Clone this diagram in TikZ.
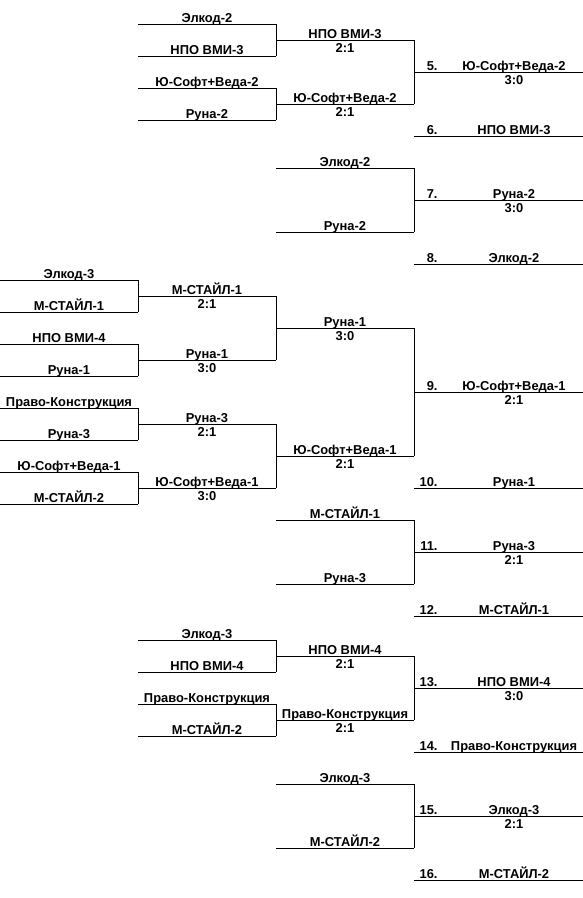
\documentclass[tikz,border=0pt]{standalone}
\usepackage{fontspec}
\setmainfont{Liberation Sans}
\usetikzlibrary{calc}

\begin{document}
\begin{tikzpicture}[x=1pt, y=-1pt, line width=0.9pt,
    every node/.style={font=\bfseries\fontsize{12.9}{15}\selectfont, inner sep=0pt},
    team/.style={anchor=base, yshift=2pt},
    score/.style={anchor=base, yshift=-12.5pt},
    place/.style={anchor=base east, yshift=2pt}]
  \useasboundingbox (0,0) rectangle (583,898);
  % first round
  \foreach \n/\y/\lbl in {a1/280/Элкод-3, a2/312/М-СТАЙЛ-1, a3/344/НПО ВМИ-4, a4/376/Руна-1,
      a5/408/Право-Конструкция, a6/440/Руна-3, a7/472/Ю-Софт+Веда-1, a8/504/М-СТАЙЛ-2}{
    \coordinate (\n-l) at (0,\y);
    \coordinate (\n-r) at (138,\y);
    \coordinate (\n-m) at (69,\y);
    \draw (\n-l) -- (\n-r);
    \node[team] (\n) at (\n-m) {\lbl};
  }
  % second column
  \foreach \n/\y/\lbl in {b1/24/Элкод-2, b2/56/НПО ВМИ-3, b3/88/Ю-Софт+Веда-2, b4/120/Руна-2,
      b5/296/М-СТАЙЛ-1, b6/360/Руна-1, b7/424/Руна-3, b8/488/Ю-Софт+Веда-1,
      b9/640/Элкод-3, b10/672/НПО ВМИ-4, b11/704/Право-Конструкция, b12/736/М-СТАЙЛ-2}{
    \coordinate (\n-l) at (138,\y);
    \coordinate (\n-r) at (276,\y);
    \coordinate (\n-m) at (207,\y);
    \draw (\n-l) -- (\n-r);
    \node[team] (\n) at (\n-m) {\lbl};
  }
  % third column
  \foreach \n/\y/\lbl in {c1/40/НПО ВМИ-3, c2/104/Ю-Софт+Веда-2, c3/168/Элкод-2, c4/232/Руна-2,
      c5/328/Руна-1, c6/456/Ю-Софт+Веда-1, c7/520/М-СТАЙЛ-1, c8/584/Руна-3,
      c9/656/НПО ВМИ-4, c10/720/Право-Конструкция, c11/784/Элкод-3, c12/848/М-СТАЙЛ-2}{
    \coordinate (\n-l) at (276,\y);
    \coordinate (\n-r) at (414,\y);
    \coordinate (\n-m) at (345,\y);
    \draw (\n-l) -- (\n-r);
    \node[team] (\n) at (\n-m) {\lbl};
  }
  % places
  \foreach \p/\y/\lbl in {5/72/Ю-Софт+Веда-2, 6/136/НПО ВМИ-3, 7/200/Руна-2, 8/264/Элкод-2,
      9/392/Ю-Софт+Веда-1, 10/488/Руна-1, 11/552/Руна-3, 12/616/М-СТАЙЛ-1,
      13/688/НПО ВМИ-4, 14/752/Право-Конструкция, 15/816/Элкод-3, 16/880/М-СТАЙЛ-2}{
    \coordinate (d\p-l) at (414,\y);
    \coordinate (d\p-r) at (583,\y);
    \coordinate (d\p-m) at (514,\y);
    \draw (d\p-l) -- (d\p-r);
    \node[place] (d\p-no) at (438,\y) {\p.};
    \node[team] (d\p) at (d\p-m) {\lbl};
  }
  % brackets
  \foreach \u/\v in {a1/a2, a3/a4, a5/a6, a7/a8, b1/b2, b3/b4, b5/b6, b7/b8, b9/b10, b11/b12,
      c1/c2, c3/c4, c5/c6, c7/c8, c9/c10, c11/c12}
    \draw (\u-r) -- (\v-r);
  % scores
  \foreach \n/\s in {b5/2:1, b6/3:0, b7/2:1, b8/3:0, c1/2:1, c2/2:1, c5/3:0, c6/2:1, c9/2:1, c10/2:1,
      d5/3:0, d7/3:0, d9/2:1, d11/2:1, d13/3:0, d15/2:1}
    \node[score] (\n-s) at (\n-m) {\s};
\end{tikzpicture}
\end{document}
